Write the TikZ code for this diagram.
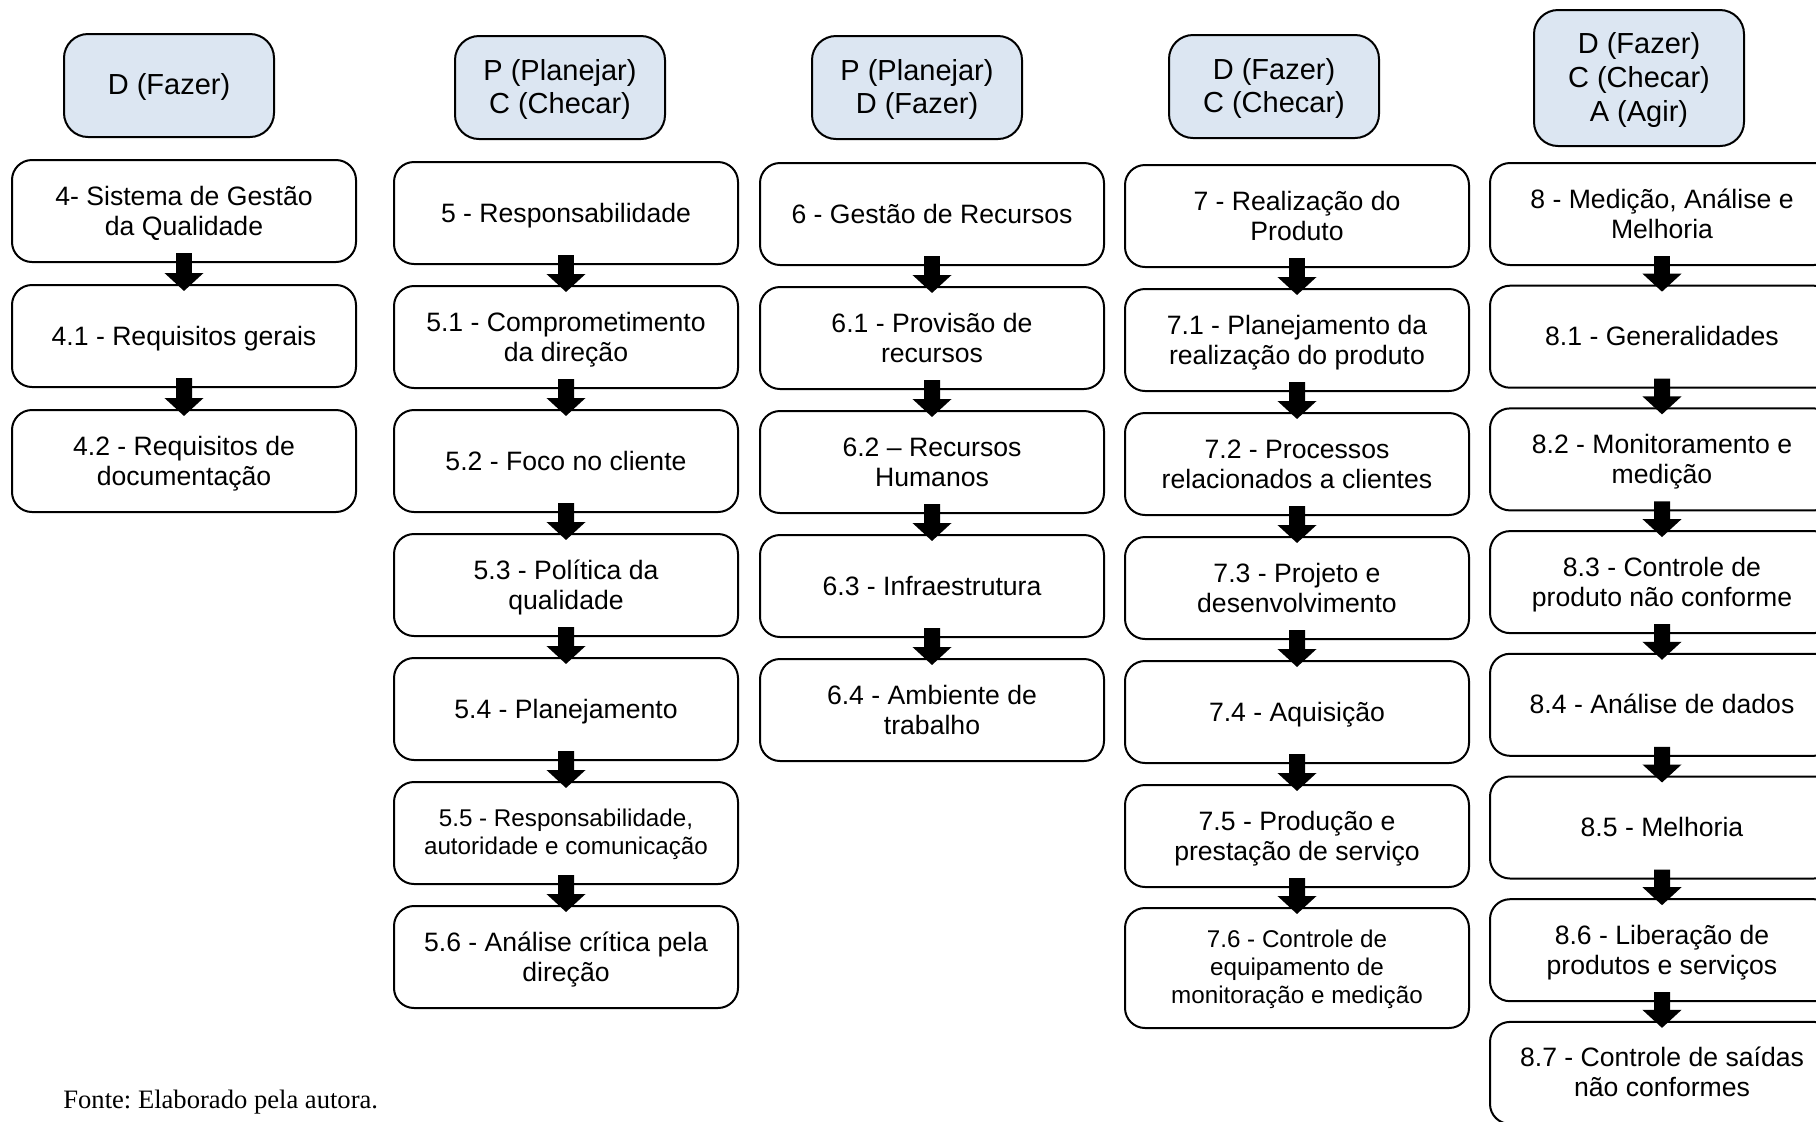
\documentclass[tikz,border=0pt]{standalone}
\usepackage{fontspec}
\setmainfont{Liberation Sans}
\newfontfamily\fonteserif{Liberation Serif}
\usepackage{xcolor}
\usepackage{tikz}
\usetikzlibrary{arrows.meta}
\definecolor{azulfase}{RGB}{220,230,242}
\newcommand{\escora}{\rule[\dimexpr0.905em-\baselineskip\relax]{0pt}{\baselineskip}}
\frenchspacing

\begin{document}
\begin{tikzpicture}[
  x=0.5pt, y=-0.5pt,
  caixa/.style={rectangle, draw, line width=1pt, rounded corners=10pt,
    minimum width=172pt, minimum height=51pt, text width=160pt, align=flush center,
    font=\fontsize{13.3}{15}\selectfont,
    execute at begin node=\escora, execute at end node=\escora},
  pequeno/.style={font=\fontsize{12.1}{14}\selectfont},
  fase/.style={rectangle, draw, line width=1pt, rounded corners=12pt, fill=azulfase,
    minimum width=105pt, minimum height=51.5pt, text width=90pt, align=flush center,
    font=\fontsize{14.5}{16.8}\selectfont,
    execute at begin node=\escora, execute at end node=\escora},
  seta/.style={line width=8pt, -{Triangle[width=19pt,length=9pt]}},
  every child node/.style={caixa},
  edge from parent/.style={draw, seta},
  edge from parent path={([yshift=5pt]\tikzparentnode.south) -- ([yshift=-3.5pt]\tikzchildnode.north)},
  level distance=62pt
]
  \useasboundingbox (0,0) rectangle (1816,1121);
  \clip (0,0) rectangle (1816,1121);

  \node[fase] (h1) at (169,85.5) {D (Fazer)};
  \node[fase] (h2) at (560,87.5) {P (Planejar)\\C (Checar)};
  \node[fase] (h3) at (917,87.5) {P (Planejar)\\D (Fazer)};
  \node[fase] (h4) at (1274,86.5) {D (Fazer)\\C (Checar)};
  \node[fase, minimum height=68pt] (h5) at (1639,78) {D (Fazer)\\C (Checar)\\A (Agir)};

  \node[caixa] (c4) at (184,211) {4- Sistema de Gestão\\da Qualidade} [level distance=62.5pt]
    child {node (c41) {4.1 - Requisitos gerais}
      child {node (c42) {4.2 - Requisitos de\\documentação}}
    };

  \node[caixa] (c5) at (566,213) {5 - Responsabilidade}
    child {node (c51) {5.1 - Comprometimento\\da direção}
      child {node (c52) {5.2 - Foco no cliente}
        child {node (c53) {5.3 - Política da\\qualidade}
          child {node (c54) {5.4 - Planejamento}
            child {node[pequeno] (c55) {5.5 - Responsabilidade,\\autoridade e comunicação}
              child {node (c56) {5.6 - Análise crítica pela\\direção}}}}}}
    };

  \node[caixa] (c6) at (932,214) {6 - Gestão de Recursos}
    child {node (c61) {6.1 - Provisão de\\recursos}
      child {node (c62) {6.2 – Recursos\\Humanos}
        child {node (c63) {6.3 - Infraestrutura}
          child {node (c64) {6.4 - Ambiente de\\trabalho}}}}
    };

  \node[caixa] (c7) at (1297,216) {7 - Realização do\\Produto}
    child {node (c71) {7.1 - Planejamento da\\realização do produto}
      child {node (c72) {7.2 - Processos\\relacionados a clientes}
        child {node (c73) {7.3 - Projeto e\\desenvolvimento}
          child {node (c74) {7.4 - Aquisição}
            child {node (c75) {7.5 - Produção e\\prestação de serviço}
              child {node[pequeno, minimum height=60pt, yshift=-4pt] (c76) {7.6 - Controle de\\equipamento de\\monitoração e medição}}}}}}
    };

  \node[caixa] (c8) at (1662,214) {8 - Medição, Análise e\\Melhoria} [level distance=61.35pt]
    child {node (c81) {8.1 - Generalidades}
      child {node (c82) {8.2 - Monitoramento e\\medição}
        child {node (c83) {8.3 - Controle de\\produto não conforme}
          child {node (c84) {8.4 - Análise de dados}
            child {node (c85) {8.5 - Melhoria}
              child {node (c86) {8.6 - Liberação de\\produtos e serviços}
                child {node (c87) {8.7 - Controle de saídas\\não conformes}}}}}}}
    };

  \node[font=\fonteserif\fontsize{13.3}{15}\selectfont, anchor=base west, inner sep=0pt] (fonte) at (63,1108) {Fonte: Elaborado pela autora.};
\end{tikzpicture}
\end{document}
